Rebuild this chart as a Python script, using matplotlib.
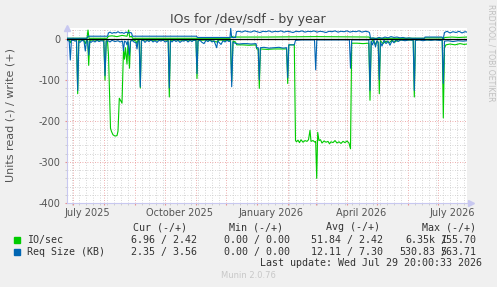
import pandas as pd
import matplotlib
matplotlib.use("Agg")
import matplotlib.pyplot as plt

plt.rcParams['axes.unicode_minus'] = False

# time axis: munin "by year" graph, 400 days ending at last update
start = pd.Timestamp('2025-06-24 20:00')
end = pd.Timestamp('2026-07-29 20:00')

# (day offset from start, value)
io_read = [
    (0, -2), (2, -3), (3.3, -10), (4.5, -2), (7, -3), (9.5, -3), (10.7, -134), (11.8, -4),
    (14, -3), (17, -4), (18.3, -12), (19.5, -4), (20.7, -5), (21.7, -65), (22.8, -4),
    (26, -3), (30, -4), (34, -3), (36.8, -4), (38, -101), (39.2, -5), (40.5, -6),
    (41.5, -40), (43.5, -218), (44.5, -226), (46, -234), (48, -237), (50, -236), (51, -225),
    (52.3, -145), (53.5, -150), (55, -157), (56.5, -25), (57.5, -50), (58.5, -22), (60, -62),
    (61, -8), (62.5, -72), (63.5, -6), (66, -3), (69, -6), (70, -12), (71, -4), (72.2, -5),
    (73.3, -120), (74.4, -5), (78, -3), (85, -4), (92, -3), (98, -3), (101.2, -4),
    (102.3, -142), (103.4, -4), (110, -3), (118, -4), (125, -3), (129, -4), (130, -97),
    (131, -4), (140, -3), (149.7, -8), (152, -3), (158, -4), (163.5, -4), (164.7, -105),
    (166, -6), (168.5, -8), (169.7, -15), (175, -15), (182, -16), (189, -15), (189.7, -25),
    (191.2, -25), (192.3, -121), (193.4, -25), (200, -26), (207, -25), (214, -25),
    (219.6, -25), (220.7, -109), (221.8, -15), (227.3, -15), (228.5, -248), (229.5, -251),
    (231, -247), (232.5, -253), (234, -246), (236, -252), (238, -248), (240, -250),
    (241.5, -246), (243, -223), (244, -250), (246, -248), (248, -252), (248.7, -250),
    (249.7, -340), (250.7, -228), (252, -248), (253.5, -246), (255, -254), (257, -249),
    (259, -252), (261, -250), (262.5, -256), (264, -251), (266, -253), (268, -248),
    (270, -254), (272, -251), (274, -255), (276, -250), (278, -253), (280, -249),
    (282, -254), (283.5, -268), (284.7, -11), (290, -11), (296, -12), (301.8, -11),
    (303, -150), (304.2, -8), (306, -4), (308, -14), (310, -6), (311.2, -8), (312.3, -134),
    (313.4, -5), (316, -12), (319, -6), (322, -10), (325, -4), (328, -8), (331, -3),
    (338, -3), (346.2, -3), (347.3, -142), (348.4, -3), (355, -2), (362, -3), (368, -2),
    (375.2, -3), (376.3, -193), (377.5, -22), (379, -15), (383, -13), (388, -15),
    (393, -12), (397, -14), (400, -13),
]
io_write = [
    (0, 1), (20, 1), (21, 21), (22, 1), (40, 1), (41.5, 6), (45, 7), (50, 5), (55, 8),
    (60, 6), (61.7, 21), (62.7, 4), (64.5, 6), (65.5, 1), (100, 1), (163, 1), (164.7, 6),
    (166, 4), (200, 4), (250, 5), (302, 4), (303, 1), (357, 1), (358, 2), (375, 2),
    (376.3, 0), (378, 3), (385, 4), (392, 3), (400, 4),
]
req_read = [
    (0, -4), (2.2, -6), (3.3, -52), (4.4, -5), (6, -3), (8, -6), (9.5, -5), (10.7, -126),
    (11.8, -6), (13, -9), (15, -4), (17, -6), (18.3, -30), (19.5, -5), (20.7, -6),
    (21.7, -40), (22.8, -6), (24, -9), (26, -5), (28, -8), (30, -4), (32, -7), (34, -5),
    (36.8, -6), (38, -90), (39.2, -6), (41, -5), (43, -8), (45, -4), (48, -7), (51, -5),
    (53, -8), (55.5, -6), (56.5, -30), (57.5, -6), (59, -8), (60, -15), (61, -5),
    (62.5, -40), (63.5, -6), (65, -4), (67, -8), (69, -10), (70, -25), (71, -6), (72.2, -5),
    (73.3, -117), (74.4, -6), (76, -3), (78, -9), (80, -4), (82, -7), (84, -3), (86, -8),
    (88, -5), (90, -9), (92, -4), (94, -6), (96, -3), (98, -8), (101.2, -5), (102.3, -120),
    (103.4, -5), (105, -8), (107, -3), (109, -7), (111, -4), (113, -9), (115, -5),
    (117, -6), (119, -3), (121, -8), (123, -4), (125, -7), (127, -3), (129, -5), (130, -85),
    (131, -6), (133, -4), (135, -9), (137, -12), (139, -4), (141, -7), (143, -3), (145, -8),
    (147, -5), (149.7, -22), (150.8, -5), (152, -9), (154, -14), (156, -5), (158, -8),
    (160, -4), (162, -7), (163.5, -5), (164.7, -117), (166, -8), (168, -11), (169.7, -12),
    (172, -13), (176, -12), (180, -12), (184, -13), (189, -12), (189.7, -22), (191.2, -22),
    (192.3, -100), (193.4, -22), (197, -21), (202, -23), (207, -22), (212, -21), (216, -23),
    (219.6, -22), (220.7, -95), (221.8, -15), (227.3, -15), (228.5, -4), (235, -3),
    (242, -3), (247.5, -3), (248.7, -76), (249.8, -3), (256, -3), (265, -3), (274, -3),
    (282.4, -3), (283.5, -72), (284.7, -3), (292, -3), (301.8, -3), (303, -126), (304.2, -6),
    (305.5, -15), (307, -4), (308.5, -20), (310, -5), (311.2, -10), (312.3, -100),
    (313.4, -8), (315, -18), (317, -4), (319, -12), (321, -6), (323, -16), (325, -5),
    (327, -10), (329, -3), (331, -7), (334, -3), (338, -5), (342, -3), (346.2, -4),
    (347.3, -126), (348.4, -4), (352, -3), (356, -5), (360, -3), (364, -4), (368, -3),
    (372, -4), (375.2, -4), (376.3, -109), (377.5, -6), (381, -5), (386, -7), (391, -5),
    (396, -6), (400, -5),
]
req_write = [
    (0, 1), (20, 1), (21, 6), (25, 6), (40.5, 6), (41.5, 14), (43, 16), (45, 13), (47, 15),
    (49, 14), (51, 17), (53, 14), (55, 15), (57, 13), (59, 16), (61, 14), (63, 15),
    (64.5, 14), (65.5, 6), (100, 6), (129.5, 6), (130.5, 3), (150, 3), (163, 3),
    (163.7, 25), (164.7, 3), (168.5, 3), (169.5, 17), (172, 18), (175, 16), (178, 19),
    (181, 17), (184, 16), (187, 19), (190, 17), (193, 15), (196, 18), (199, 17), (202, 19),
    (205, 16), (208, 18), (211, 17), (214, 19), (217, 16), (220, 18), (223, 17), (226, 15),
    (229, 18), (232, 17), (235, 19), (238, 16), (241, 18), (244, 17), (247, 19), (250, 16),
    (253, 18), (256, 17), (259, 15), (262, 18), (265, 17), (268, 19), (271, 16), (274, 18),
    (277, 17), (280, 19), (283, 16), (286, 18), (289, 17), (292, 19), (295, 16), (298, 18),
    (301, 17), (302.5, 15), (303.5, 1), (306, 2), (309, 0), (312, 3), (315, 1), (318, 4),
    (321, 2), (324, 5), (327, 3), (330, 4), (333, 2), (336, 3), (339, 1), (342, 2),
    (345, 1), (350, 1), (355, 1), (357.5, 1), (358, 4), (375, 4), (376.3, 0), (377.5, 15),
    (380, 18), (383, 14), (386, 17), (389, 15), (392, 18), (395, 14), (398, 17), (400, 16),
]

tick_months = ['2025-07-15', '2025-10-15', '2026-01-15', '2026-04-15', '2026-07-15']
tick_names = ['July 2025', 'October 2025', 'January 2026', 'April 2026', 'July 2026']

legend_rows = ['IO/sec', 'Req Size (KB)']
cur_vals = ['6.96 / 2.42', '2.35 / 3.56']
min_vals = ['0.00 / 0.00', '0.00 / 0.00']
avg_vals = ['51.84 / 2.42', '12.11 / 7.30']
max_neg = ['6.35k', '530.83']
max_pos = ['155.70', '563.71']

GREEN = '#00cc00'
BLUE = '#0066b3'
W, H = 497, 287


def to_x(series):
    days = [d for d, v in series]
    vals = [v for d, v in series]
    return start + pd.to_timedelta(days, unit='D'), vals


def px(x, y):
    return x / W, 1 - y / H


fig = plt.figure(figsize=(W / 100, H / 100), dpi=100, facecolor='#f0f0f0')
ax = fig.add_axes([67 / W, 84 / H, 400 / W, 175 / H])
ax.set_facecolor('white')

for series, color in [(io_read, GREEN), (io_write, GREEN), (req_read, BLUE), (req_write, BLUE)]:
    x, y = to_x(series)
    ax.plot(x, y, color=color, lw=0.8, zorder=3)
ax.axhline(0, color='black', lw=0.9, zorder=4)

ax.set_xlim(start, end)
ax.set_ylim(-400, 26)

# grid like rrdtool: red dotted major, gray dotted minor
ax.set_xticks(pd.date_range('2025-07-01', '2026-07-01', freq='MS'))
ax.set_xticks(pd.date_range('2025-06-30', '2026-07-29', freq='W-MON'), minor=True)
ax.set_yticks(range(-400, 1, 100))
ax.set_yticks(range(-400, 26, 20), minor=True)
ax.set_yticklabels([str(v) for v in range(-400, 1, 100)])
ax.grid(which='minor', color='#c8c8c8', ls=(0, (1, 2)), lw=0.6, zorder=1)
ax.grid(which='major', color='#e89090', ls=(0, (1, 2)), lw=0.6, zorder=2)
ax.tick_params(axis='x', which='both', labelbottom=False, length=1.5)
ax.tick_params(axis='x', which='major', color='#e89090')
ax.tick_params(axis='x', which='minor', color='#c8c8c8')
ax.tick_params(axis='y', which='major', length=1.5, pad=3.5, color='#e89090',
               labelsize=7, labelcolor='#555555')
ax.tick_params(axis='y', which='minor', length=1.5, color='#c8c8c8')

for s in ['top', 'right']:
    ax.spines[s].set_visible(False)
for s in ['left', 'bottom']:
    ax.spines[s].set_color('#c8c8f0')
    ax.spines[s].set_linewidth(0.8)
ax.plot([0], [1.0], marker='^', ms=4, color='#c8c8f0', transform=ax.transAxes, clip_on=False)
ax.plot([1.01], [0], marker='>', ms=4, color='#c8c8f0', transform=ax.transAxes, clip_on=False)

for t, name in zip(tick_months, tick_names):
    ax.text(pd.Timestamp(t), -0.055, name, transform=ax.get_xaxis_transform(),
            ha='center', va='center', fontsize=7, color='#555555')

fig.text(*px(248, 19), 'IOs for /dev/sdf - by year', ha='center', va='center',
         fontsize=9, color='#444444')
fig.text(*px(10.5, 115), 'Units read (-) / write (+)', ha='center', va='center',
         rotation=90, fontsize=8, color='#555555')
fig.text(*px(491, 53), 'RRDTOOL / TOBI OETIKER', ha='center', va='center',
         rotation=270, fontsize=5.5, color='#c0c0c0')

mono = dict(family='DejaVu Sans Mono', fontsize=7.2, color='#333333', va='center')
fig.text(*px(187, 227.3), 'Cur (-/+)', ha='right', **mono)
fig.text(*px(283.3, 227.3), 'Min (-/+)', ha='right', **mono)
fig.text(*px(380, 227.3), 'Avg (-/+)', ha='right', **mono)
fig.text(*px(476, 227.3), 'Max (-/+)', ha='right', **mono)

for i, (label, color) in enumerate(zip(legend_rows, [GREEN, BLUE])):
    y = 240 + i * 11.7
    fig.patches.append(plt.Rectangle(px(14, y + 3), 6 / W, 6 / H, color=color,
                                     transform=fig.transFigure, figure=fig))
    fig.text(*px(26.7, y), label, ha='left', **mono)
    fig.text(*px(196.7, y), cur_vals[i], ha='right', **mono)
    fig.text(*px(290, y), min_vals[i], ha='right', **mono)
    fig.text(*px(383.3, y), avg_vals[i], ha='right', **mono)
    fig.text(*px(435.5, y), max_neg[i], ha='right', **mono)
    fig.text(*px(440.7, y), '/', ha='left', **mono)
    fig.text(*px(476.7, y), max_pos[i], ha='right', **mono)

fig.text(*px(482.3, 263.3), 'Last update: Wed Jul 29 20:00:33 2026', ha='right', **mono)
fig.text(*px(248, 276), 'Munin 2.0.76', ha='center', va='center', fontsize=6, color='#c8c8c8')

fig.savefig('out.png', dpi=100, facecolor=fig.get_facecolor())
